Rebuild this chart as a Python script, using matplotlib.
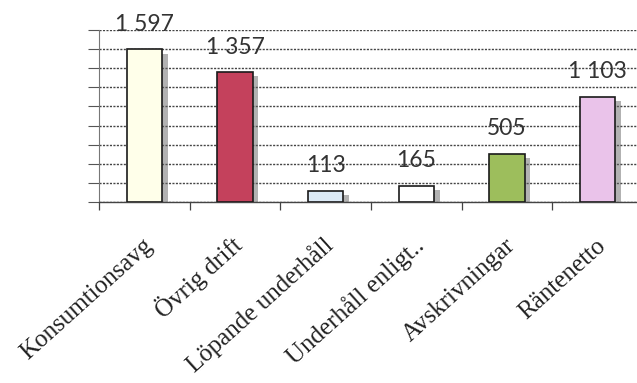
import matplotlib
matplotlib.use("Agg")
import matplotlib.pyplot as plt
import matplotlib.patheffects as pe
import matplotlib.transforms as mtransforms
import numpy as np

categories = ["Konsumtionsavg", "Övrig drift", "Löpande underhåll",
              "Underhåll enligt..", "Avskrivningar", "Räntenetto"]
values = [1597, 1357, 113, 165, 505, 1103]
colors = ["#FFFFEA", "#C4415C", "#DCEAF6", "#FFFFFF", "#9DBE5C", "#EAC3EA"]

fig = plt.figure(figsize=(6.37, 3.83), dpi=100)
ax = fig.add_axes([99/637, 181/383, 544/637, 172/383])

x = np.arange(len(values)) + 0.5
bars = ax.bar(x, values, width=0.39, color=colors, edgecolor="#1a1a1a",
              linewidth=1.2, zorder=3)
for b in bars:
    b.set_path_effects([pe.SimplePatchShadow(offset=(4, -3), shadow_rgbFace="#666666", alpha=0.5),
                        pe.Normal()])

for xi, v in zip(x, values):
    ax.annotate(f"{v:,}".replace(",", " "), (xi, v), xytext=(0, 13.5),
                textcoords="offset points", ha="center", va="baseline",
                fontsize=16.5, family="Lato", color="#333333", zorder=5)

ax.set_xlim(0, 6)
ax.set_ylim(0, 1800)
ax.set_yticks(np.arange(0, 1801, 200))
ax.set_yticklabels([])
ax.tick_params(axis="y", length=8, width=0.8, color="#555555")
ax.yaxis.grid(True, color="#444444", linestyle=(0, (1.5, 1)), linewidth=1.0, zorder=0)
ax.set_axisbelow(True)

ax.set_xticks(np.arange(0, 7))
ax.set_xticklabels([])
ax.tick_params(axis="x", which="major", length=6, width=0.9, color="#444444")

offset = mtransforms.ScaledTranslation(9/100, -45/100, fig.dpi_scale_trans)
for xi, lab in zip(x, categories):
    ax.text(xi, 0, lab, transform=ax.get_xaxis_transform() + offset,
            rotation=42, rotation_mode="anchor", ha="right", va="baseline",
            fontsize=18, family="Liberation Serif", color="#222222")

for s in ["top", "right"]:
    ax.spines[s].set_visible(False)
ax.spines["left"].set_color("#777777")
ax.spines["left"].set_linewidth(0.8)
ax.spines["bottom"].set_color("#444444")
ax.spines["bottom"].set_linewidth(1.0)
ax.spines["bottom"].set_linestyle((0, (1.5, 1)))

fig.savefig("out.png", dpi=100)
